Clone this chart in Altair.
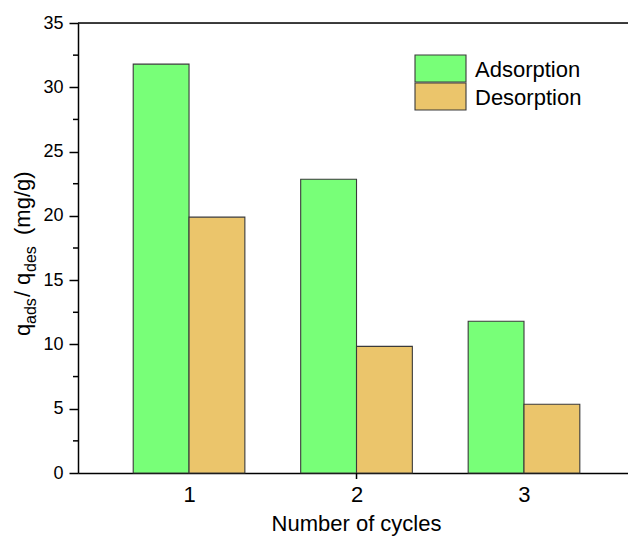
import altair as alt
import pandas as pd

# ---- data ----
cycles = [1, 2, 3]
adsorption = [31.8, 22.85, 11.8]
desorption = [19.9, 9.85, 5.35]
series_names = ["Adsorption", "Desorption"]
series_colors = ["#78FF78", "#EBC56B"]
y_major = [0, 5, 10, 15, 20, 25, 30, 35]
y_minor = [2.5, 7.5, 12.5, 17.5, 22.5, 27.5, 32.5]

BAR_W = 1 / 3
W, H = 550, 450
X_DOMAIN = [0.337, 3.621]
FONT = "Liberation Sans"

rows = []
for c, a, d in zip(cycles, adsorption, desorption):
    rows.append({"cycle": c, "series": series_names[0], "value": a, "x0": c - BAR_W, "x1": c})
    rows.append({"cycle": c, "series": series_names[1], "value": d, "x0": c, "x1": c + BAR_W})
df = pd.DataFrame(rows)

xscale = alt.Scale(domain=X_DOMAIN, nice=False, zero=False)
yscale = alt.Scale(domain=[0, 35], nice=False)

y_axis = alt.Axis(
    values=y_major, title=None, tickSize=9, tickWidth=1.5, tickColor="black",
    domainColor="black", domainWidth=1.5, labelFontSize=18, labelFont=FONT,
    labelColor="black", labelPadding=6, grid=False)

bars = alt.Chart(df).mark_bar(stroke="#3a3a3a", strokeWidth=1.1, opacity=1).encode(
    x=alt.X("x0:Q", scale=xscale, axis=alt.Axis(
        values=cycles, format="d", title="Number of cycles", ticks=False,
        labelFontSize=22, labelPadding=11, labelColor="black", labelFont=FONT,
        domainColor="black", domainWidth=1.5, grid=False,
        titleFontSize=22, titleFont=FONT, titleColor="black", titleFontWeight="normal",
        titleBaseline="alphabetic", titleY=57, titleX=278)),
    x2="x1:Q",
    y=alt.Y("value:Q", scale=yscale, axis=y_axis),
    y2=alt.datum(0),
    color=alt.Color("series:N", scale=alt.Scale(domain=series_names, range=series_colors),
                    legend=None),
)

minor = alt.Chart(pd.DataFrame({"value": y_minor})).mark_rule(color="black", strokeWidth=1.5).encode(
    y=alt.Y("value:Q", scale=yscale, axis=y_axis),
    x=alt.value(-5), x2=alt.value(0),
)

top_line = alt.Chart(pd.DataFrame({"a": [0]})).mark_rule(color="black", strokeWidth=1.5).encode(
    x=alt.value(0), x2=alt.value(W), y=alt.value(0),
)

tick2 = alt.Chart(pd.DataFrame({"a": [0]})).mark_rule(color="black", strokeWidth=1.5).encode(
    x=alt.datum(2, scale=xscale), y=alt.value(H), y2=alt.value(H + 6),
)

# legend: swatch boxes stacked, labels to the right
LEG_X, LEG_Y, SW_W, SW_H, SW_GAP = 337, 32, 51, 27, 1
legend_layers = []
for i, (name, col) in enumerate(zip(series_names, series_colors)):
    top = LEG_Y + i * (SW_H + SW_GAP)
    legend_layers.append(
        alt.Chart(pd.DataFrame({"a": [0]})).mark_rect(
            fill=col, stroke="#3a3a3a", strokeWidth=1.1).encode(
            x=alt.value(LEG_X), x2=alt.value(LEG_X + SW_W),
            y=alt.value(top), y2=alt.value(top + SW_H))
    )
    legend_layers.append(
        alt.Chart(pd.DataFrame({"a": [0]})).mark_text(
            text=name, fontSize=22, font=FONT, align="left", baseline="middle",
            color="black").encode(x=alt.value(LEG_X + SW_W + 9), y=alt.value(top + SW_H / 2 + 1))
    )

# y title with subscripts: q_ads / q_des (mg/g)
title_parts = ["q", "ads", "/", "q", "des", "(mg/g)"]
title_sizes = [22, 16, 22, 22, 16, 22]
title_x = [-48, -42, -48, -48, -42, -48]
title_y = [313, 301, 274, 262, 249, 212]
title_layers = []
for t, s, tx, ty in zip(title_parts, title_sizes, title_x, title_y):
    title_layers.append(
        alt.Chart(pd.DataFrame({"a": [0]})).mark_text(
            text=t, fontSize=s, font=FONT, angle=270, align="left",
            baseline="alphabetic", color="black").encode(x=alt.value(tx), y=alt.value(ty))
    )

chart = alt.layer(bars, minor, top_line, tick2, *legend_layers, *title_layers).properties(
    width=W, height=H,
    autosize=alt.AutoSizeParams(type="none"),
    padding={"left": 78, "top": 23, "right": 0, "bottom": 63},
).configure_view(stroke=None).configure(background="white")

chart.save("out.html", embed_options={"renderer": "svg", "actions": False})
